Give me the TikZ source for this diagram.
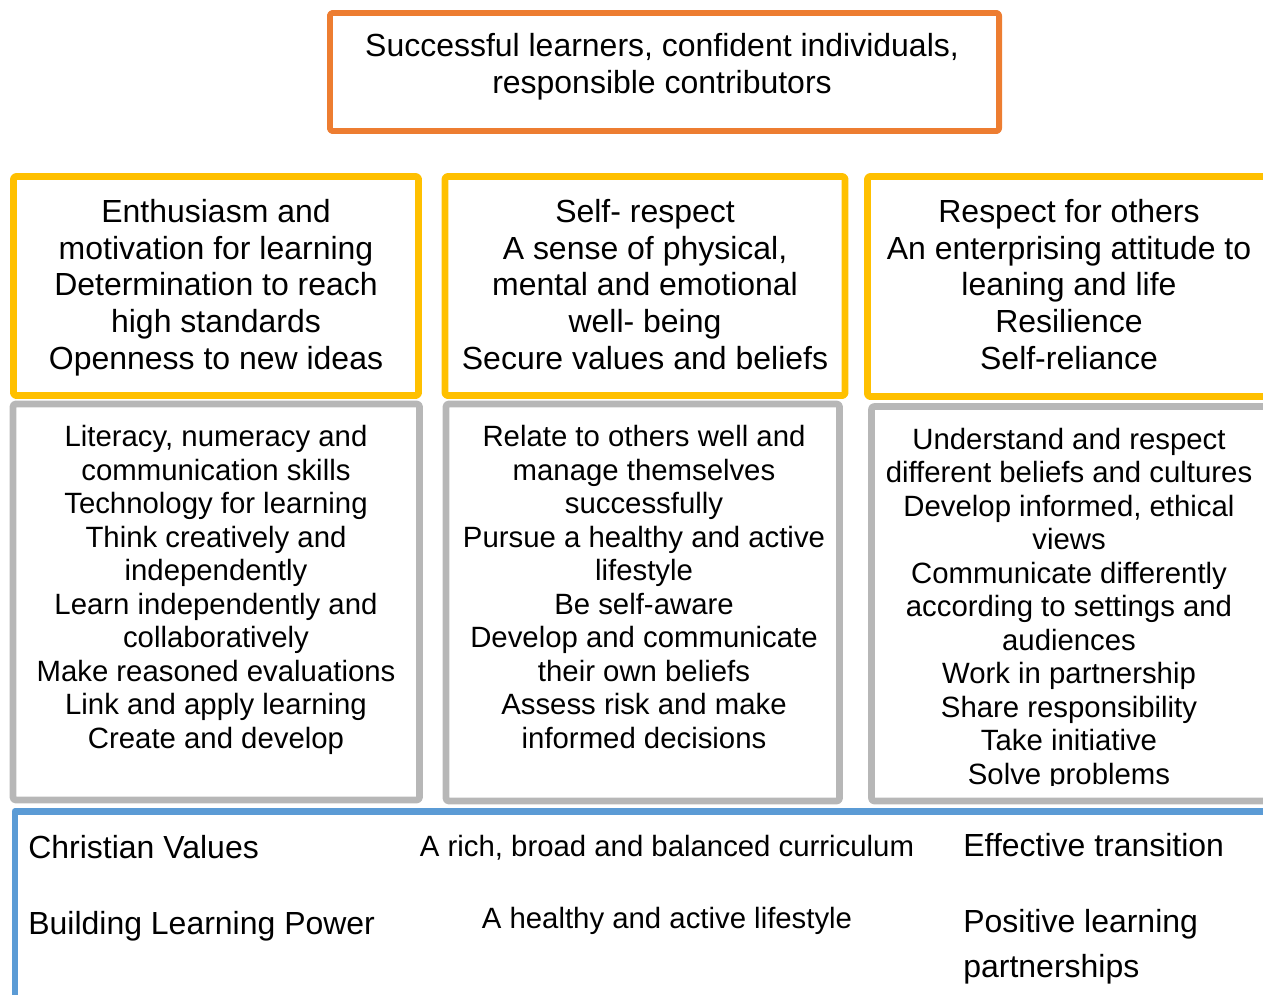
\documentclass[tikz,border=0pt]{standalone}
\usepackage{fontspec}
\setmainfont{Liberation Sans}
\definecolor{aimorange}{HTML}{ED7D31}
\definecolor{aimyellow}{HTML}{FFC000}
\definecolor{aimgrey}{HTML}{B7B7B7}
\definecolor{aimblue}{HTML}{5B9BD5}
\begin{document}
\begin{tikzpicture}[x=0.02cm,y=-0.02cm,line join=round,line cap=round]
	\tikzset{every node/.style={inner sep=0pt,align=center},
		big/.style={font=\fontsize{18.2}{20.8}\selectfont},
		small/.style={font=\fontsize{16.7}{19.05}\selectfont},
		frame/.style={line width=3.9pt,rounded corners=1.5pt}}
	\clip (0,0) rectangle (1263,994);
	\draw[frame,aimorange,line width=3.4pt] (330,13) rectangle (999,131);
	\node[big,anchor=base] (aims) at (662,93) {Successful learners, confident individuals,\\responsible contributors};
	\begin{scope}[frame,aimyellow]
		\draw (13.5,176.5) rectangle (418.5,395.5) (445,176.5) rectangle (845,395.5) (867.5,176.5) rectangle (1300,396.5);
	\end{scope}
	\node[big,anchor=base] (enth) at (216,369) {Enthusiasm and\\motivation for learning\\Determination to reach\\high standards\\Openness to new ideas};
	\node[big,anchor=base] (selfr) at (645,369) {Self- respect\\A sense of physical,\\mental and emotional\\well- being\\Secure values and beliefs};
	\node[big,anchor=base] (resp) at (1069,369) {Respect for others\\An enterprising attitude to\\leaning and life\\Resilience\\Self-reliance};
	\begin{scope}[frame,aimgrey,line width=3.8pt]
		\draw (13,404) rectangle (419.5,800) (446,404) rectangle (839.5,801) (871.5,406.5) rectangle (1300,801);
	\end{scope}
	\node[small,anchor=base] (skills) at (216,748) {Literacy, numeracy and\\communication skills\\Technology for learning\\Think creatively and\\independently\\Learn independently and\\collaboratively\\Make reasoned evaluations\\Link and apply learning\\Create and develop};
	\node[small,anchor=base] (relate) at (644,748) {Relate to others well and\\manage themselves\\successfully\\Pursue a healthy and active\\lifestyle\\Be self-aware\\Develop and communicate\\their own beliefs\\Assess risk and make\\informed decisions};
	\begin{scope}
		\clip (880,415) rectangle (1263,785);
		\node[small,anchor=base] (underst) at (1069,784) {Understand and respect\\different beliefs and cultures\\Develop informed, ethical\\views\\Communicate differently\\according to settings and\\audiences\\Work in partnership\\Share responsibility\\Take initiative\\Solve problems};
	\end{scope}
	\draw[aimblue,line width=3.8pt] (15,1100) |- (1300,811.5);
	\node[big,anchor=base west] (cval) at (28,858) {Christian Values};
	\node[big,anchor=base west] (blp) at (28,934) {Building Learning Power};
	\node[small,anchor=base] (curric) at (667,856) {A rich, broad and balanced curriculum};
	\node[small,anchor=base] (healthy) at (667,928) {A healthy and active lifestyle};
	\node[big,anchor=base west] (transit) at (963,856) {Effective transition};
	\node[font=\fontsize{18.2}{25.5}\selectfont,align=left,anchor=base west] (partner) at (963,977) {Positive learning\\partnerships};
\end{tikzpicture}
\end{document}
